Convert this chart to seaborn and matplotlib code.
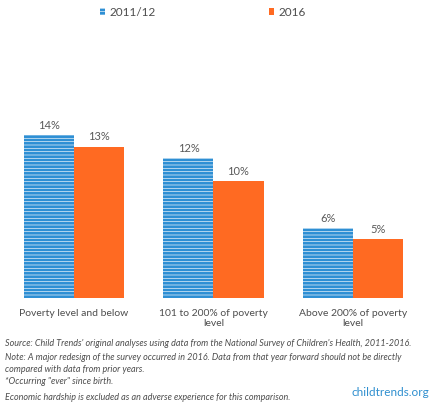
import pandas as pd
import matplotlib
matplotlib.use("Agg")
import matplotlib.pyplot as plt
import seaborn as sns

categories = ["Poverty level and below", "101 to 200% of poverty\nlevel", "Above 200% of poverty\nlevel"]
years = ["2011/12", "2016"]
values_2011 = [14, 12, 6]
values_2016 = [13, 10, 5]

footnotes = [
    "Source: Child Trends' original analyses using data from the National Survey of Children's Health, 2011-2016.",
    "Note: A major redesign of the survey occurred in 2016. Data from that year forward should not be directly",
    "compared with data from prior years.",
    "*Occurring \"ever\" since birth.",
    "Economic hardship is excluded as an adverse experience for this comparison.",
]

df = pd.DataFrame({
    "category": categories * 2,
    "year": [years[0]] * 3 + [years[1]] * 3,
    "pct": values_2011 + values_2016,
})

sns.set_style("white")
plt.rcParams["font.family"] = ["Lato", "DejaVu Sans"]
plt.rcParams["hatch.linewidth"] = 0.5

blue = "#2e8fd4"
orange = "#ff6a22"
grey = "#4d4d4d"

fig = plt.figure(figsize=(4.29, 4.07), dpi=100)
ax = fig.add_axes([0.0099, 0.269, 0.9755, 0.485])

sns.barplot(data=df, x="category", y="pct", hue="year", hue_order=years,
            palette=[blue, orange], width=0.717, gap=0, saturation=1,
            legend=False, ax=ax)

for p in ax.containers[0]:
    p.set_hatch("-----")
    p.set_edgecolor("#e8f2fa")
    p.set_linewidth(0)
for p in ax.containers[1]:
    p.set_linewidth(0)

for cont in ax.containers:
    ax.bar_label(cont, labels=[f"{v:.0f}%" for v in cont.datavalues],
                 padding=3, fontsize=8, color="#595959")

ax.set_ylim(0, 17)
ax.set_xlim(-0.5, 2.5)
ax.set_xlabel("")
ax.set_ylabel("")
ax.set_yticks([])
ax.tick_params(axis="x", length=0, pad=8, labelsize=7.5, labelcolor=grey)
sns.despine(ax=ax, left=True, top=True, right=True, bottom=True)

handles = [ax.containers[0][0], ax.containers[1][0]]
fig.legend(handles, years, loc="center", bbox_to_anchor=(0.472, 1 - 12 / 407),
           ncol=2, frameon=False, fontsize=8.5, labelcolor=grey,
           handlelength=0.5, handleheight=0.5, handletextpad=0.3,
           columnspacing=9.6)

ys = [344, 357, 369, 382, 397]
for txt, y in zip(footnotes, ys):
    fig.text(5 / 429, 1 - y / 407, txt, fontsize=6.5, style="italic",
             color=grey, va="center", ha="left")

fig.text(429 / 429, 1 - 392 / 407, "childtrends.org", fontsize=8.5,
         color="#2f8fcf", va="center", ha="right")

fig.savefig("out.png", dpi=100)
